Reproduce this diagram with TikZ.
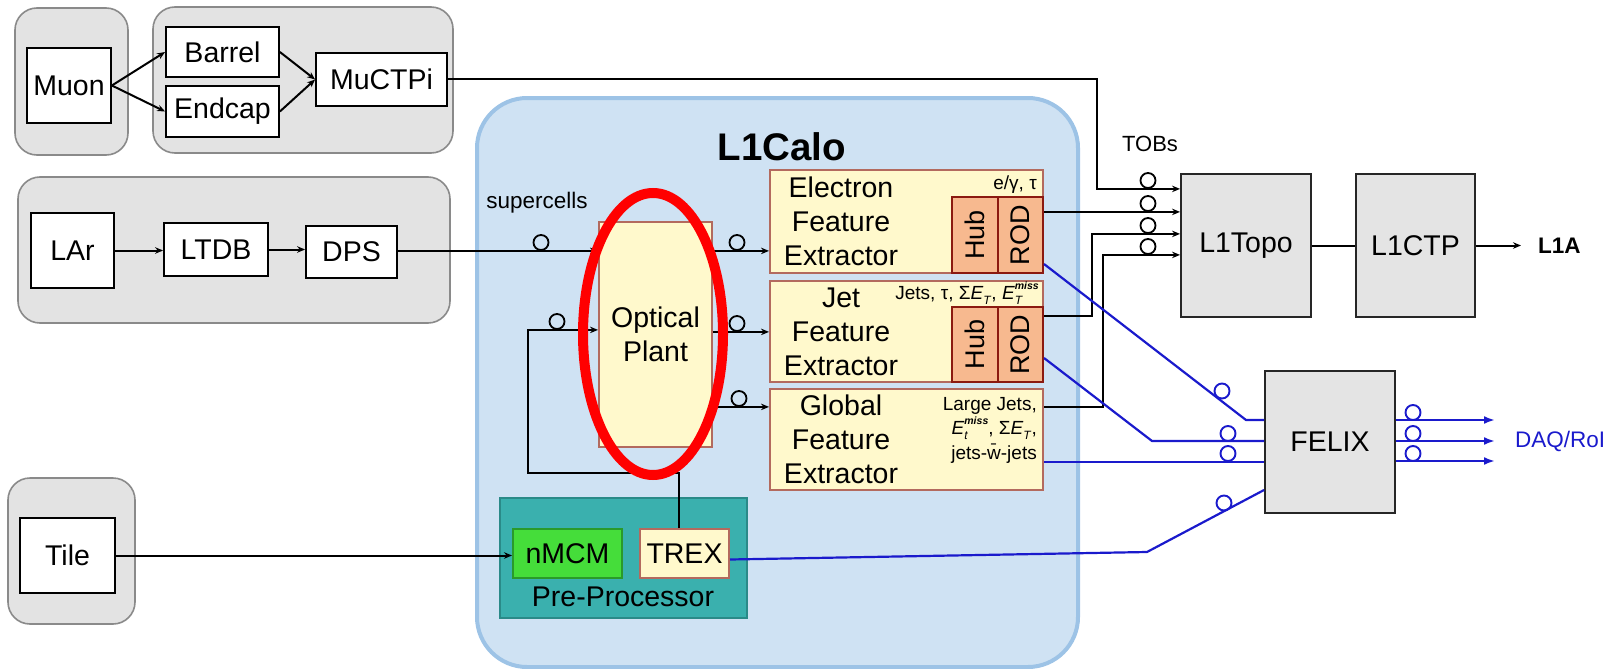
\documentclass[tikz,border=0pt]{standalone}
\usepackage{fontspec}
\setmainfont{Liberation Sans}
\usetikzlibrary{arrows.meta,shapes.geometric}
\definecolor{grpfill}{HTML}{E3E3E3}
\definecolor{grpline}{HTML}{8A8A8A}
\definecolor{calofill}{HTML}{CFE2F3}
\definecolor{caloline}{HTML}{9DC3E6}
\definecolor{fexfill}{HTML}{FFF9CC}
\definecolor{fexline}{HTML}{B36A5E}
\definecolor{rodfill}{HTML}{F7B98F}
\definecolor{rodline}{HTML}{8B1A10}
\definecolor{ppfill}{HTML}{3AB0AE}
\definecolor{ppline}{HTML}{2A8A88}
\definecolor{mcmfill}{HTML}{45DD3A}
\definecolor{mcmline}{HTML}{2A9A2A}
\definecolor{dblue}{HTML}{1A1ACC}
\definecolor{boxgray}{HTML}{E4E4E4}
\newcommand\EmissT[1]{\textit{E}\rlap{\raisebox{-0.45ex}{\fontsize{12}{12}\selectfont\textit{#1}}}\raisebox{1.05ex}{\fontsize{10.5}{11}\selectfont\textbf{\textit{miss}}}}
\newcommand\EsubT{\textit{E}\raisebox{-0.45ex}{\fontsize{12}{12}\selectfont\textit{T}}}
\begin{document}
\begin{tikzpicture}[x=1pt,y=-1pt,
  txt/.style={font=\fontsize{28.5}{34}\selectfont},
  wbox/.style={draw=black, line width=1.8pt, fill=white, inner sep=0pt, txt},
  grp/.style={draw=grpline, fill=grpfill, line width=1.6pt, rounded corners=22pt, inner sep=0pt},
  gbox/.style={draw=black!85, line width=1.9pt, fill=boxgray, inner sep=0pt, txt},
  fex/.style={draw=fexline, line width=2pt, fill=fexfill, inner sep=0pt},
  rod/.style={draw=rodline, line width=2.2pt, fill=rodfill, inner sep=0pt, font=\fontsize{27}{30}\selectfont},
  ln/.style={line width=2pt, black},
  arr/.style={ln, -{Stealth[length=8pt,width=6.5pt]}},
  bln/.style={line width=2.2pt, dblue},
  barr/.style={bln, -{Latex[length=11pt,width=8pt]}},
  fib/.style={circle, draw=black, line width=1.8pt, minimum size=15pt, inner sep=0pt},
  fibb/.style={fib, draw=dblue, line width=1.9pt},
  small/.style={font=\fontsize{19}{24.5}\selectfont, inner sep=0pt},
]
\useasboundingbox (0,0) rectangle (1617,669);

% Muon
\node[grp, minimum width=113pt, minimum height=147pt] (muongrp) at (71.5,81.5) {};
\node[wbox, minimum width=84pt, minimum height=75pt] (muon) at (69,85.5) {Muon};
\node[grp, minimum width=300pt, minimum height=146pt] (trggrp) at (303,80) {};
\node[wbox, minimum width=113pt, minimum height=50pt] (barrel) at (222.5,52) {Barrel};
\node[wbox, minimum width=113pt, minimum height=51pt] (endcap) at (222.5,111.5) {Endcap};
\node[wbox, minimum width=131pt, minimum height=53pt] (muctpi) at (381.5,79.5) {MuCTPi};
% LAr
\node[grp, minimum width=432pt, minimum height=146pt] (largrp) at (234,250) {};
\node[wbox, minimum width=83pt, minimum height=75pt] (lar) at (72.5,250.5) {LAr};
\node[wbox, minimum width=104pt, minimum height=53pt] (ltdb) at (216,249.5) {LTDB};
\node[wbox, minimum width=91pt, minimum height=52pt] (dps) at (351.5,252) {DPS};
% Tile
\node[grp, minimum width=127pt, minimum height=146pt] (tilegrp) at (71.5,551) {};
\node[wbox, minimum width=95pt, minimum height=75pt] (tile) at (67.5,555.5) {Tile};

% L1Calo
\node[draw=caloline, fill=calofill, line width=4pt, rounded corners=50pt, minimum width=601pt, minimum height=569pt, inner sep=0pt] (l1calo) at (777.5,382.5) {};
\node[font=\bfseries\fontsize{38.5}{44}\selectfont, inner sep=0pt] (calotitle) at (782,147) {L1Calo};
\node[font=\fontsize{22.5}{26}\selectfont, inner sep=0pt] (sclabel) at (537,203) {supercells};
\node[fex, txt, align=center, minimum width=113pt, minimum height=225pt] (optical) at (655.5,334.5) {Optical\\Plant};

\node[fex, minimum width=273pt, minimum height=103pt] (efex) at (906.5,221.5) {};
\node[fex, minimum width=273pt, minimum height=101pt] (jfex) at (906.5,331.5) {};
\node[fex, minimum width=273pt, minimum height=101pt] (gfex) at (906.5,439.5) {};
\node[rod, rotate=90, minimum width=76pt, minimum height=46pt] (ehub) at (975,235) {Hub};
\node[rod, rotate=90, minimum width=76pt, minimum height=45pt] (erod) at (1020.5,235) {ROD};
\node[rod, rotate=90, minimum width=75pt, minimum height=46pt] (jhub) at (975,344.5) {Hub};
\node[rod, rotate=90, minimum width=75pt, minimum height=45pt] (jrod) at (1020.5,344.5) {ROD};
\node[txt, align=center, inner sep=0pt] (etxt) at (841,221.5) {Electron\\Feature\\Extractor};
\node[txt, align=center, inner sep=0pt] (jtxt) at (841,331.5) {Jet\\Feature\\Extractor};
\node[txt, align=center, inner sep=0pt] (gtxt) at (841,439) {Global\\Feature\\Extractor};
\node[small, anchor=east] (etag) at (1037,185) {e/γ, τ};
\node[small, anchor=east] (jtag) at (1039,293) {Jets, τ, Σ\EsubT, \EmissT{T}};
\node[small, anchor=east, align=right] (gtag) at (1037,430) {Large Jets,\\\EmissT{t}, Σ\EsubT,\\jets-\={w}-jets};

\node[draw=ppline, fill=ppfill, line width=1.6pt, minimum width=247pt, minimum height=120pt, inner sep=0pt] (pre) at (623.5,558) {};
\node[draw=mcmline, fill=mcmfill, line width=2pt, txt, minimum width=109pt, minimum height=49pt, inner sep=0pt] (nmcm) at (567.5,553.5) {nMCM};
\node[fex, txt, minimum width=89pt, minimum height=49pt] (trex) at (684.5,553.5) {TREX};
\node[txt, inner sep=0pt] (pplabel) at (623,597) {Pre-Processor};

% right side
\node[gbox, minimum width=130pt, minimum height=143pt] (l1topo) at (1246,245.5) {L1Topo};
\node[gbox, minimum width=119pt, minimum height=143pt] (l1ctp) at (1415.5,245.5) {L1CTP};
\node[gbox, minimum width=130pt, minimum height=142pt] (felix) at (1330,442) {FELIX};
\node[font=\bfseries\fontsize{22.5}{26}\selectfont, anchor=west, inner sep=0pt] (l1a) at (1538,245.5) {L1A};
\node[font=\fontsize{22.5}{26}\selectfont, text=dblue, inner sep=0pt] (daq) at (1560,441) {DAQ/RoI};
\node[font=\fontsize{22}{26}\selectfont, inner sep=0pt] (tobs) at (1150,144) {TOBs};

% fibre circles
\node[fib] (c1) at (541,242.5) {};
\node[fib] (c2) at (737,242.5) {};
\node[fib] (c3) at (737,323.5) {};
\node[fib] (c4) at (739,398.5) {};
\node[fib] (c5) at (557,321.5) {};
\node[fib] (t1) at (1148,180.5) {};
\node[fib] (t2) at (1148,203.5) {};
\node[fib] (t3) at (1148,225.5) {};
\node[fib] (t4) at (1148,246.5) {};
\node[fibb] (f1) at (1222,391) {};
\node[fibb] (f2) at (1228,433.5) {};
\node[fibb] (f3) at (1228,453.5) {};
\node[fibb] (f4) at (1224,503) {};
\node[fibb] (o1) at (1413,412.5) {};
\node[fibb] (o2) at (1413,433.5) {};
\node[fibb] (o3) at (1413,453.5) {};

% black connectors
\draw[arr] (muon.east) -- (barrel.west);
\draw[arr] (muon.east) -- (endcap.west);
\draw[arr] (barrel.east) -- (muctpi.west);
\draw[arr] (endcap.east) -- (muctpi.west);
\draw[arr] (lar.east) -- (lar.east -| ltdb.west);
\draw[arr] (ltdb.east) -- (ltdb.east -| dps.west);
\draw[arr] (dps.east |- c1.south) -- (optical.west |- c1.south);
\draw[arr] (tile.east) -- (tile.east -| nmcm.west);
\draw[arr] (optical.east |- c2.south) -- (efex.west |- c2.south);
\draw[arr] (optical.east |- c3.south) -- (jfex.west |- c3.south);
\draw[arr] (optical.east |- c4.south) -- (gfex.west |- c4.south);
\coordinate (fb) at (528,473);
\draw[arr] ([xshift=-5.5pt]trex.north) |- (fb) |- (optical.west |- c5.south);

\coordinate (m1) at (1097,79.5);
\draw[arr] (muctpi.east) -- (m1) |- (l1topo.west |- t1.south);
\draw[arr] (efex.east |- t2.south) -- (l1topo.west |- t2.south);
\coordinate (j1) at (1092,316);
\draw[arr] (jfex.east |- j1) -- (j1) |- (l1topo.west |- t3.south);
\coordinate (g1) at (1103,407);
\draw[arr] (gfex.east |- g1) -- (g1) |- (l1topo.west |- t4.south);
\draw[ln] (l1topo.east) -- (l1ctp.west);
\draw[arr] (l1ctp.east) -- ([xshift=-17pt]l1a.west);

% blue connectors
\coordinate (eb) at ([yshift=10pt]efex.south east);
\coordinate (b1) at (1246,420);
\draw[bln] (eb) -- (b1) -- (felix.west |- b1);
\coordinate (jb) at ([yshift=25pt]jfex.south east);
\coordinate (b2) at (1152,441);
\draw[bln] (jb) -- (b2) -- (felix.west |- b2);
\draw[bln] (gfex.east |- f3.south) -- (felix.west |- f3.south);
\coordinate (b4) at (1147,552);
\draw[bln] ([yshift=-6pt]trex.east) -- (b4) -- ([yshift=-48pt]felix.west);
\coordinate (d1) at (1495,420);
\coordinate (d2) at (1495,441);
\coordinate (d3) at (1495,461);
\draw[barr] (felix.east |- d1) -- (d1);
\draw[barr] (felix.east |- d2) -- (d2);
\draw[barr] (felix.east |- d3) -- (d3);

% highlight
\node[ellipse, draw=red, line width=10pt, minimum width=140pt, minimum height=282pt, inner sep=0pt] (hl) at (653,334) {};
\end{tikzpicture}
\end{document}
